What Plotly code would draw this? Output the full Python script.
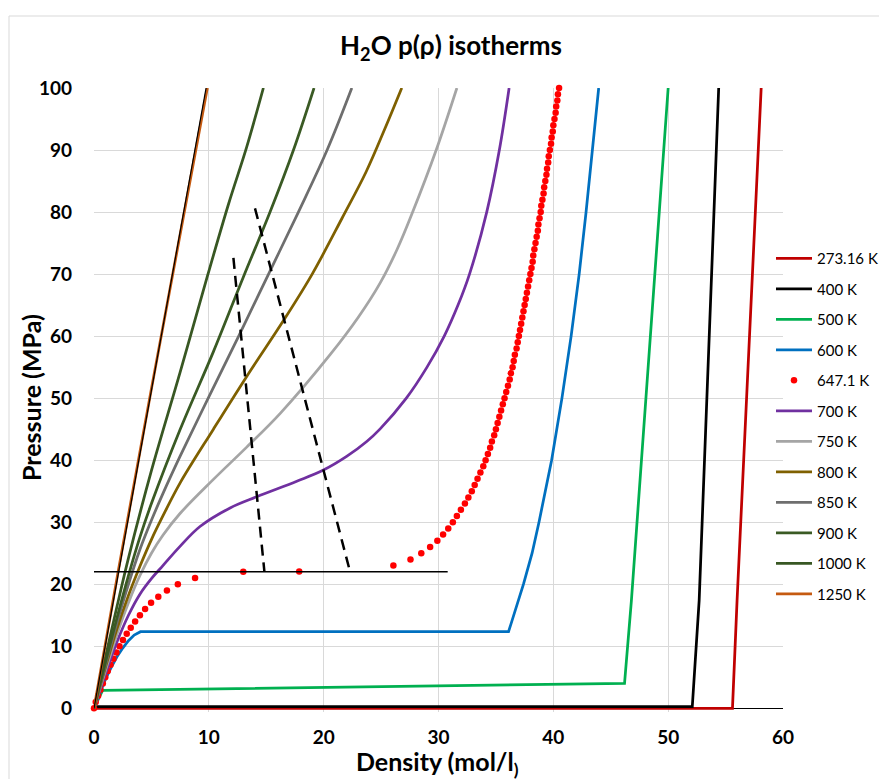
import plotly.graph_objects as go

# ---- isotherm data: density (mol/l) and pressure (MPa) ----
rho_273 = [0, 55.6, 56.0, 58.1]
p_273 = [0, 0, 17.4, 100]

rho_400 = [0, 0.08, 52.1, 52.7, 54.4]
p_400 = [0, 0.25, 0.25, 17.4, 100]

rho_500 = [0, 0.35, 0.75, 46.2, 46.8, 50.0]
p_500 = [0, 1.4, 2.9, 4.0, 17.4, 100]

rho_600 = [0, 0.5, 1.0, 1.5, 2.0, 2.5, 3.0, 3.5, 4.05, 36.1, 36.75, 37.4, 38.15,
           38.75, 39.85, 40.75, 41.55, 42.25, 42.85, 43.4, 43.95]
p_600 = [0, 2.5, 4.7, 6.6, 8.3, 9.7, 10.9, 11.8, 12.34, 12.34, 16, 20, 25,
         30, 40, 50, 60, 70, 80, 90, 100]

p_647 = [0, 1, 2, 3, 4, 5, 6, 7, 8, 9, 10, 11, 12, 13, 14, 15, 16, 17, 18, 19, 20, 21,
         22, 22.064, 23, 24, 25, 26, 27, 28, 29, 30, 31, 32, 33, 34, 35, 36, 37, 38, 39,
         40, 41, 42, 43, 44, 45, 46, 47, 48, 49, 50, 51, 52, 53, 54, 55, 56, 57, 58, 59,
         60, 61, 62, 63, 64, 65, 66, 67, 68, 69, 70, 71, 72, 73, 74, 75, 76, 77, 78, 79,
         80, 81, 82, 83, 84, 85, 86, 87, 88, 89, 90, 91, 92, 93, 94, 95, 96, 97, 98, 99, 100]
rho_647 = [0, 0.15, 0.36, 0.56, 0.77, 0.98, 1.2, 1.44, 1.69, 1.95, 2.22, 2.52, 2.85,
           3.2, 3.58, 4.0, 4.45, 4.97, 5.6, 6.35, 7.3, 8.8,
           13.0, 17.87, 26.07, 27.56, 28.5, 29.27, 29.9, 30.4, 30.85, 31.25, 31.6, 31.95,
           32.3, 32.6, 32.9, 33.15, 33.4, 33.65, 33.9, 34.1, 34.3, 34.5, 34.65, 34.85,
           35.0, 35.15, 35.3, 35.45, 35.6, 35.75, 35.9, 36.05, 36.2, 36.3, 36.45, 36.55,
           36.65, 36.8, 36.9, 37.0, 37.1, 37.2, 37.3, 37.4, 37.5, 37.6, 37.7, 37.8, 37.9,
           38.0, 38.1, 38.2, 38.25, 38.35, 38.45, 38.55, 38.65, 38.7, 38.8, 38.9, 38.95,
           39.05, 39.15, 39.2, 39.3, 39.4, 39.45, 39.55, 39.6, 39.7, 39.8, 39.85, 39.95,
           40.0, 40.1, 40.2, 40.25, 40.35, 40.4, 40.5]

rho_700 = [0, 1, 2, 3, 4, 5, 6, 7.49, 9.23, 11.85, 14.17, 17.66, 19.98, 22.0, 23.75,
           24.9, 27.2, 29.0, 30.5, 31.7, 32.7, 34.2, 35.3, 36.15]
p_700 = [0, 5.6, 10.7, 15.0, 18.4, 20.9, 23.0, 26.1, 29.3, 32.3, 34.1, 36.6, 38.4, 40.6,
         43.0, 45.0, 50, 55, 60, 65, 70, 80, 90, 100]

rho_750 = [0, 1, 2, 3, 4, 5, 6, 7.49, 10.4, 13.3, 16.2, 20.56, 23.0, 24.9, 26.4,
           27.75, 29.8, 31.6]
p_750 = [0, 6.1, 11.9, 17.0, 21.4, 25.0, 27.9, 31.4, 36.9, 42.1, 47.5, 57.0, 63.0, 68.5,
         74, 80, 90, 100]

rho_800 = [0, 1, 2, 3, 4, 5, 6, 7.49, 10.4, 13.3, 16.5, 19.0, 21.6, 23.7, 25.3, 26.8]
p_800 = [0, 6.6, 12.8, 18.2, 22.9, 27.2, 31.0, 36.3, 45.0, 53.5, 62.5, 70, 79, 86.5,
         93.3, 100]

rho_850 = [0, 1, 2, 3, 4, 5, 6, 7.49, 10.0, 12.6, 15.2, 17.8, 20.3, 22.45]
p_850 = [0, 7.0, 13.8, 20.0, 25.6, 30.3, 34.6, 40.6, 50.2, 60, 70, 80, 90, 100]

rho_900 = [0, 1, 2, 3, 4, 5, 7.49, 10.4, 13.0, 15.33, 17.37, 19.16]
p_900 = [0, 7.4, 14.6, 21.4, 27.6, 33.0, 44.9, 57.5, 69.5, 80, 90, 100]

rho_1000 = [0, 1, 2, 3, 5, 7.49, 9.85, 11.75, 13.3, 14.75]
p_1000 = [0, 8.3, 16.4, 24.2, 38.3, 54.1, 69.5, 81.5, 90.5, 100]

rho_1250 = [0, 2.1, 5, 9.87]
p_1250 = [0, 22, 51.5, 100]

# companion straight line drawn along the 1250 K isotherm
rho_ref = [0, 9.76]
p_ref = [0, 100]

# critical-pressure level and the two dashed guide lines
rho_pc = [0, 30.8]
p_pc = [22.0, 22.0]
rho_dash1 = [12.14, 14.84]
p_dash1 = [72.6, 22.0]
rho_dash2 = [14.02, 22.3]
p_dash2 = [80.6, 22.0]

x_ticks = [0, 10, 20, 30, 40, 50, 60]
y_ticks = [0, 10, 20, 30, 40, 50, 60, 70, 80, 90, 100]

FONT = "Lato"
LW = 2.75

line_series = [
    ("273.16 K", rho_273, p_273, "#C00000"),
    ("400 K", rho_400, p_400, "#000000"),
    ("500 K", rho_500, p_500, "#00B050"),
    ("600 K", rho_600, p_600, "#0070C0"),
]
smooth_series = [
    ("700 K", rho_700, p_700, "#7030A0"),
    ("750 K", rho_750, p_750, "#A5A5A5"),
    ("800 K", rho_800, p_800, "#7F6000"),
    ("850 K", rho_850, p_850, "#6E6E6E"),
    ("900 K", rho_900, p_900, "#3A5A24"),
    ("1000 K", rho_1000, p_1000, "#385723"),
    ("1250 K", rho_1250, p_1250, "#C55A11"),
]

fig = go.Figure()

for name, x, y, color in line_series:
    fig.add_trace(go.Scatter(x=x, y=y, name=name, mode="lines", legendgroup=name,
                             line=dict(color=color, width=LW)))

fig.add_trace(go.Scatter(x=rho_647, y=p_647, name="647.1 K", mode="markers",
                         legendgroup="647.1 K", cliponaxis=False,
                         marker=dict(color="#FF0000", size=6.5)))

for name, x, y, color in smooth_series:
    fig.add_trace(go.Scatter(x=x, y=y, name=name, mode="lines", legendgroup=name,
                             line=dict(color=color, width=LW, shape="spline",
                                       smoothing=1.0)))

# thin black line alongside the 1250 K curve
fig.add_trace(go.Scatter(x=rho_ref, y=p_ref, mode="lines", showlegend=False,
                         line=dict(color="#000000", width=1.2), hoverinfo="skip"))

fig.add_trace(go.Scatter(x=rho_pc, y=p_pc, mode="lines", showlegend=False,
                         line=dict(color="#000000", width=1.6), hoverinfo="skip"))
for dx, dy in ((rho_dash1, p_dash1), (rho_dash2, p_dash2)):
    fig.add_trace(go.Scatter(x=dx, y=dy, mode="lines", showlegend=False,
                             line=dict(color="#000000", width=2.5, dash="11px,7px"),
                             hoverinfo="skip"))

W, H = 879, 779
L, R, T, B = 94, 0, 88, 67
PLOT_RIGHT = 783                      # right edge of the axes, px
pw, ph = W - L - R, H - T - B


def px_x(px):
    return (px - L) / pw


def px_y(py):
    return (H - B - py) / ph


axis_title_font = dict(size=25, family=FONT, color="#000000")

fig.update_layout(
    width=W, height=H,
    margin=dict(l=L, r=R, t=T, b=B, autoexpand=False),
    paper_bgcolor="white", plot_bgcolor="white",
    font=dict(family=FONT, color="#000000"),
    title=dict(text="<b>H<sub>2</sub>O p(ρ) isotherms</b>", x=451 / W, xanchor="center",
               y=1 - 46 / H, yanchor="middle", font=dict(size=26, color="#000000")),
    showlegend=True,
    legend=dict(x=px_x(771), y=px_y(242), xanchor="left", yanchor="top",
                font=dict(size=15, color="#000000"), tracegroupgap=8, itemwidth=36,
                bgcolor="rgba(0,0,0,0)"),
    shapes=[dict(type="rect", xref="paper", yref="paper",
                 x0=px_x(9), x1=px_x(895), y0=px_y(795), y1=px_y(16),
                 line=dict(color="#D9D9D9", width=1), layer="below")],
    annotations=[
        dict(text="<b>Density (mol/l<sub>)</sub></b>", xref="paper", yref="paper",
             x=px_x(437), y=px_y(763), xanchor="center", yanchor="middle",
             showarrow=False, font=axis_title_font),
        dict(text="<b>Pressure (MPa)</b>", xref="paper", yref="paper",
             x=px_x(31), y=px_y(398), xanchor="center", yanchor="middle",
             textangle=-90, showarrow=False, font=axis_title_font),
    ],
)

fig.update_xaxes(
    domain=[0, px_x(PLOT_RIGHT)], automargin=False,
    range=[0, 60], tickvals=x_ticks, showgrid=True, gridcolor="#D9D9D9", gridwidth=1,
    zeroline=False, showline=False, ticks="", ticklabelstandoff=12,
    tickfont=dict(size=19, family=FONT, weight="bold", color="#000000"),
)
fig.update_yaxes(
    automargin=False,
    range=[-0.6, 100], tickvals=y_ticks, showgrid=True, gridcolor="#D9D9D9", gridwidth=1,
    zeroline=True, zerolinecolor="#000000", zerolinewidth=1, showline=False, ticks="",
    ticklabelstandoff=21,
    tickfont=dict(size=19, family=FONT, weight="bold", color="#000000"),
)

fig.write_html("out.html")
